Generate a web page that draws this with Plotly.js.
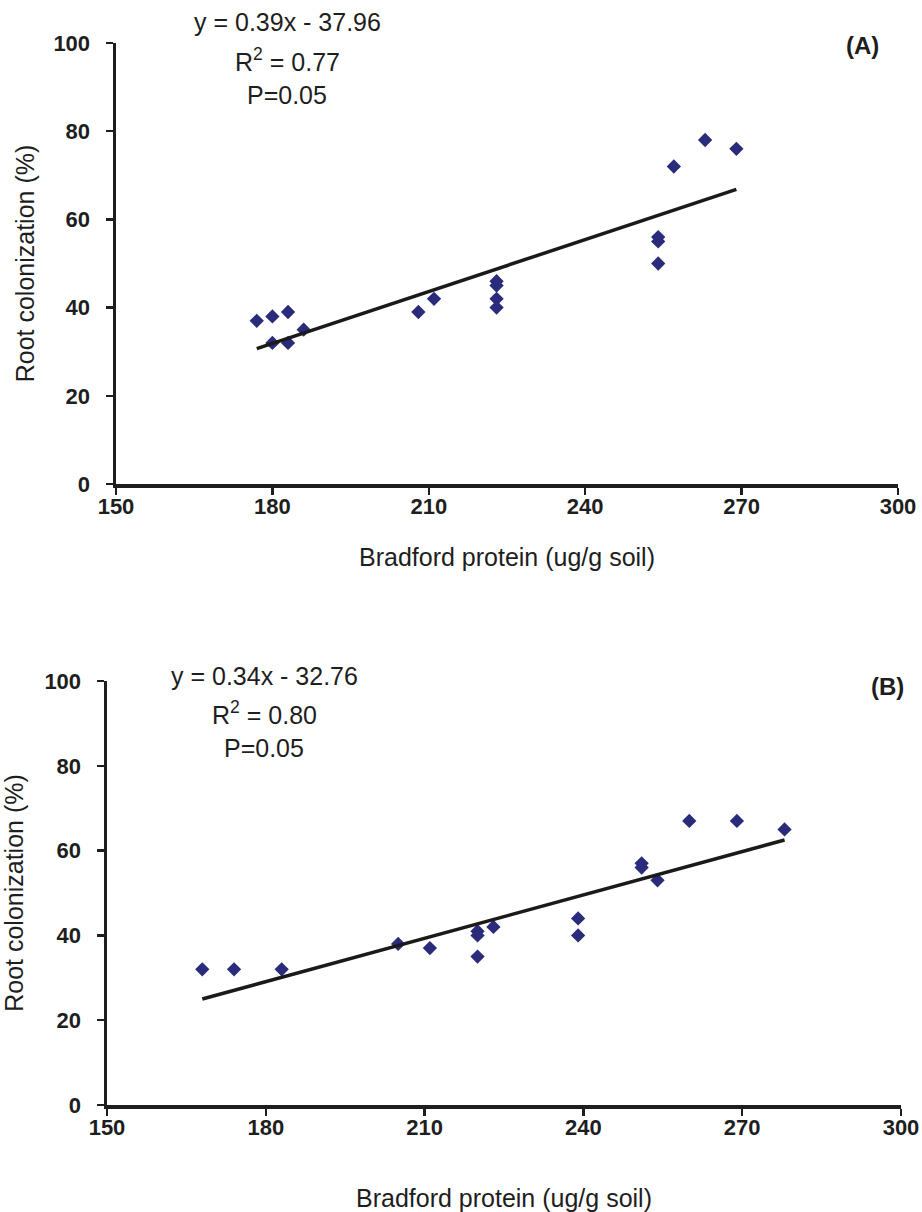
<!DOCTYPE html>
<html>
<head>
<meta charset="utf-8">
<script src="https://cdn.plot.ly/plotly-3.0.1.min.js"></script>
<style>
html,body{margin:0;padding:0;background:#fff;}
#chart{width:922px;height:1212px;}
</style>
</head>
<body>
<div id="chart"></div>
<script>
// Panel A data
const protA = [177, 180, 180, 183, 183, 186, 208, 211, 223, 223, 223, 223, 254, 254, 254, 257, 263, 269];
const colonA = [37, 38, 32, 39, 32, 35, 39, 42, 46, 45, 42, 40, 56, 55, 50, 72, 78, 76];
const fitXA = [177, 269];
const fitYA = [30.7, 66.8];

// Panel B data
const protB = [168, 174, 183, 205, 211, 220, 220, 220, 223, 239, 239, 251, 251, 254, 260, 269, 278];
const colonB = [32, 32, 32, 38, 37, 41, 40, 35, 42, 44, 40, 57, 56, 53, 67, 67, 65];
const fitXB = [168, 278];
const fitYB = [25, 62.5];

const xTicks = [150, 180, 210, 240, 270, 300];
const yTicks = [0, 20, 40, 60, 80, 100];
const xTitle = 'Bradford protein (ug/g soil)';
const yTitle = 'Root colonization (%)';
const eqA = ['y = 0.39x - 37.96', 'R<sup>2</sup> = 0.77', 'P=0.05'];
const eqB = ['y = 0.34x - 32.76', 'R<sup>2</sup> = 0.80', 'P=0.05'];
const panelLabels = ['(A)', '(B)'];

const W = 922, H = 1212;
const FONT = 'Liberation Sans, Arial, sans-serif';
const markerColor = '#2b2b7b';

function px(x){ return x / W; }
function py(y){ return 1 - y / H; }

const traces = [
  {x: protA, y: colonA, type: 'scatter', mode: 'markers', xaxis: 'x', yaxis: 'y',
   marker: {symbol: 'diamond', size: 11, color: markerColor}, showlegend: false},
  {x: fitXA, y: fitYA, type: 'scatter', mode: 'lines', xaxis: 'x', yaxis: 'y',
   line: {color: '#1a1a1a', width: 3.5}, showlegend: false},
  {x: protB, y: colonB, type: 'scatter', mode: 'markers', xaxis: 'x2', yaxis: 'y2',
   marker: {symbol: 'diamond', size: 11, color: markerColor}, showlegend: false},
  {x: fitXB, y: fitYB, type: 'scatter', mode: 'lines', xaxis: 'x2', yaxis: 'y2',
   line: {color: '#1a1a1a', width: 3.5}, showlegend: false}
];

function xAxis(domain, anchor, standoff){
  return {
    domain: domain, anchor: anchor, range: [150, 300],
    tickmode: 'array', tickvals: xTicks, ticktext: xTicks.map(String),
    showgrid: false, zeroline: false, showline: true, linecolor: '#1e1e1e', linewidth: 3.5,
    ticks: 'outside', ticklen: 7, tickwidth: 2.5, tickcolor: '#1e1e1e',
    tickfont: {family: FONT, size: 22, color: '#1e1e1e', weight: 'bold'},
    ticklabelstandoff: -7,
    title: {text: xTitle, font: {family: FONT, size: 25, color: '#1e1e1e'}, standoff: standoff},
    automargin: false, fixedrange: true
  };
}
function yAxis(domain, anchor, standoff){
  return {
    domain: domain, anchor: anchor, range: [0, 100],
    tickmode: 'array', tickvals: yTicks, ticktext: yTicks.map(String),
    showgrid: false, zeroline: false, showline: true, linecolor: '#1e1e1e', linewidth: 3.5,
    ticks: 'outside', ticklen: 7, tickwidth: 2.5, tickcolor: '#1e1e1e',
    tickfont: {family: FONT, size: 22, color: '#1e1e1e', weight: 'bold'},
    ticklabelstandoff: 11,
    title: {text: yTitle, font: {family: FONT, size: 25, color: '#1e1e1e'}, standoff: standoff},
    automargin: false, fixedrange: true
  };
}

const annotations = [];
function addEq(lines, cx, ys){
  lines.forEach((t, i) => {
    annotations.push({xref: 'paper', yref: 'paper', x: px(cx), y: py(ys[i]),
      xanchor: 'center', yanchor: 'middle', text: t, showarrow: false,
      font: {family: FONT, size: 25, color: '#1e1e1e'}});
  });
}
addEq(eqA, 287, [22, 60, 95]);
addEq(eqB, 264, [676, 713, 748]);
annotations.push({xref: 'paper', yref: 'paper', x: px(862), y: py(45), xanchor: 'center', yanchor: 'middle',
  text: '<b>' + panelLabels[0] + '</b>', showarrow: false, font: {family: FONT, size: 24, color: '#1e1e1e'}});
annotations.push({xref: 'paper', yref: 'paper', x: px(887), y: py(687), xanchor: 'center', yanchor: 'middle',
  text: '<b>' + panelLabels[1] + '</b>', showarrow: false, font: {family: FONT, size: 24, color: '#1e1e1e'}});

const layout = {
  width: W, height: H,
  margin: {l: 0, r: 0, t: 0, b: 0},
  paper_bgcolor: '#ffffff', plot_bgcolor: 'rgba(0,0,0,0)',
  showlegend: false,
  xaxis: xAxis([px(116), px(898)], 'y', 31),
  yaxis: yAxis([py(484), py(43)], 'x', 12),
  xaxis2: xAxis([px(107), px(901)], 'y2', 55),
  yaxis2: yAxis([py(1105), py(681)], 'x2', 25),
  annotations: annotations
};

Plotly.newPlot('chart', traces, layout, {displayModeBar: false, staticPlot: true});
</script>
</body>
</html>
